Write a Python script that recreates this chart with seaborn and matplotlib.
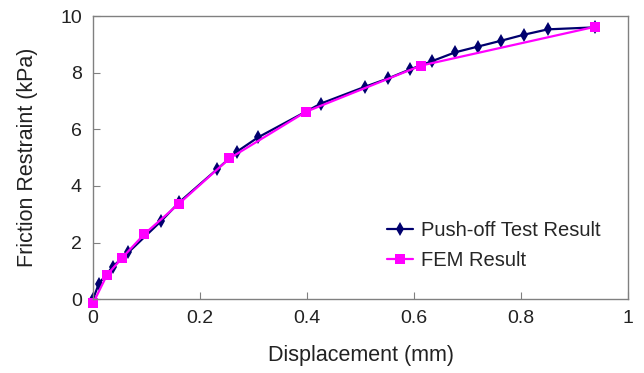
import matplotlib
matplotlib.use("Agg")
import matplotlib.pyplot as plt
import matplotlib.ticker as mticker
import pandas as pd
import seaborn as sns

# Push-off test (diamonds)
test_disp = [0.0, 0.011, 0.037, 0.066, 0.128, 0.161, 0.232, 0.269, 0.308, 0.426,
             0.508, 0.552, 0.593, 0.634, 0.677, 0.719, 0.763, 0.805, 0.850, 0.938]
test_force = [0.0, 0.55, 1.15, 1.65, 2.77, 3.42, 4.59, 5.21, 5.71, 6.91,
              7.50, 7.80, 8.12, 8.41, 8.72, 8.92, 9.13, 9.34, 9.53, 9.60]

# FEM (squares)
fem_disp = [0.0, 0.026, 0.054, 0.096, 0.160, 0.255, 0.398, 0.613, 0.938]
fem_force = [-0.15, 0.85, 1.45, 2.30, 3.36, 4.97, 6.62, 8.25, 9.62]

df_test = pd.DataFrame({"disp": test_disp, "force": test_force})
df_fem = pd.DataFrame({"disp": fem_disp, "force": fem_force})

sns.set_style("white")
plt.rcParams["font.family"] = ["Liberation Sans", "DejaVu Sans"]

fig = plt.figure(figsize=(6.44, 3.73), dpi=100)
ax = fig.add_axes([0.1444, 0.198, 0.831, 0.759])

sns.lineplot(data=df_test, x="disp", y="force", ax=ax, color="#00006e",
             marker="d", markersize=7, linewidth=1.6, markeredgewidth=0,
             label="Push-off Test Result", clip_on=False, sort=False)
sns.lineplot(data=df_fem, x="disp", y="force", ax=ax, color="#ff00ff",
             marker="s", markersize=7.5, linewidth=1.6, markeredgewidth=0,
             label="FEM Result", clip_on=False, sort=False)

ax.set_xlim(0, 1)
ax.set_ylim(0, 10)
ax.set_xticks([0, 0.2, 0.4, 0.6, 0.8, 1.0])
ax.set_yticks([0, 2, 4, 6, 8, 10])
ax.xaxis.set_major_formatter(mticker.FuncFormatter(lambda v, p: f"{v:g}"))
ax.tick_params(axis="both", direction="in", length=5, color="#808080",
               labelsize=14, labelcolor="#222222", pad=8)
ax.tick_params(axis="x", bottom=True, top=False, pad=8)
ax.tick_params(axis="y", left=True, right=False)
for s in ax.spines.values():
    s.set_color("#808080")
    s.set_linewidth(1.0)

ax.set_xlabel("Displacement (mm)", fontsize=15.5, color="#222222", labelpad=13)
ax.set_ylabel("Friction Restraint (kPa)", fontsize=15.5, color="#222222", labelpad=16)

ax.legend(loc="lower right", bbox_to_anchor=(0.982, 0.04), frameon=False,
          fontsize=14.5, handlelength=1.3, handletextpad=0.4, labelspacing=0.55)

fig.savefig("out.png", dpi=100)
